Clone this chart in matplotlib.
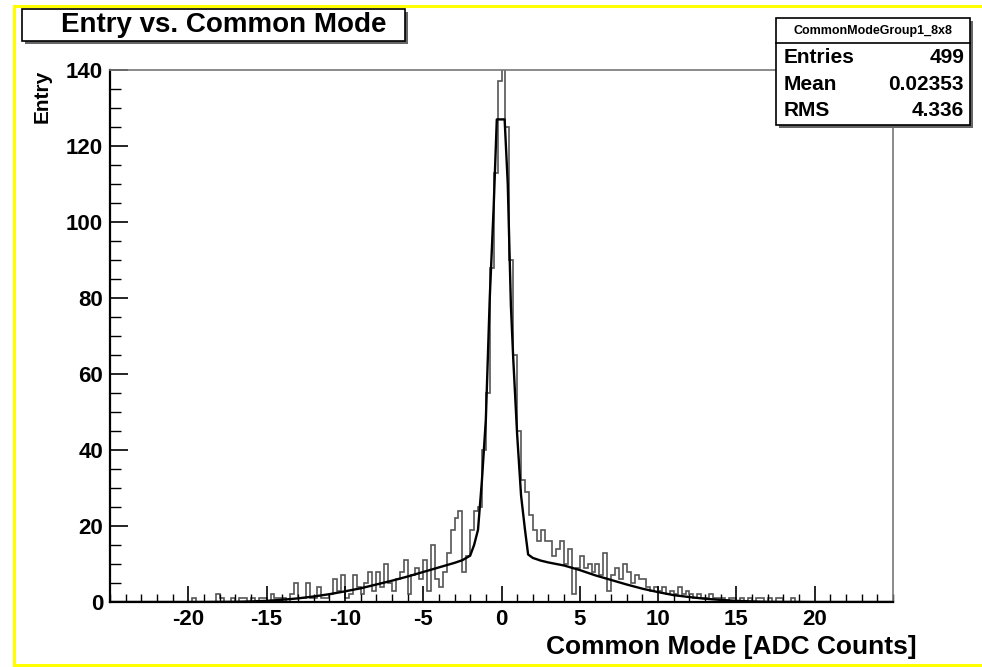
import numpy as np
import matplotlib
matplotlib.use("Agg")
import matplotlib.pyplot as plt
from matplotlib.patches import Rectangle
from matplotlib.lines import Line2D

plt.rcParams["axes.unicode_minus"] = False

# histogram of common mode values, bins of 0.25 ADC from -25 to 25
counts = [
    0, 0, 0, 0,  0, 0, 0, 0,  0, 0, 0, 0,  0, 0, 0, 0,  0, 0, 0, 0,      # -25 .. -20
    0, 1, 0, 0,  0, 0, 0, 2,  1, 0, 0, 1,  0, 1, 1, 0,  1, 0, 1, 1,      # -20 .. -15
    0, 2, 1, 1,  1, 0, 2, 5,  1, 1, 5, 1,  1, 4, 1, 1,  2, 6, 3, 7,      # -15 .. -10
    1, 2, 7, 4,  2, 5, 8, 3,  8, 4, 10, 5,  3, 6, 8, 11,  2, 7, 9, 6,    # -10 .. -5
    11, 3, 15, 6,  4, 8, 13, 19,  22, 24, 8, 12,  19, 24, 25, 40,        # -5 .. -1
    55, 88, 113, 137,                                                     # -1 .. 0
    142, 125, 90, 65,                                                     # 0 .. 1
    45, 32, 29, 23,  19, 16, 19, 16,  16, 12, 14, 16,  10, 14, 2, 9,     # 1 .. 5
    12, 9, 10, 8,  10, 7, 13, 3,  7, 9, 6, 10,  8, 5, 7, 6,  6, 4, 3, 4, # 5 .. 10
    3, 4, 2, 3,  2, 4, 2, 3,  2, 1, 2, 1,  1, 2, 1, 1,  1, 0, 1, 1,      # 10 .. 15
    0, 1, 0, 1,  0, 1, 1, 0,  1, 0, 1, 1,  0, 0, 1, 0,  0, 0, 0, 0,      # 15 .. 20
    0, 0, 0, 0,  0, 0, 0, 0,  0, 0, 0, 0,  0, 0, 0, 0,  0, 0, 0, 0,      # 20 .. 25
]
edges = np.linspace(-25, 25, len(counts) + 1)

# fitted function (polyline)
fit_x = [-25, -20, -17, -16, -15, -14, -13, -12, -11, -10, -9, -8, -7, -6, -5, -4,
         -3, -2.5, -2, -1.75, -1.5, -1.25, -1, -0.75, -0.5, -0.3, 0.2, 0.4, 0.6,
         0.75, 1, 1.25, 1.5, 1.7, 2, 2.5, 3, 4, 5, 6, 7, 8, 9, 10, 11, 12, 13,
         14, 15, 16, 17, 20, 25]
fit_y = [0, 0, 0.05, 0.15, 0.3, 0.6, 0.95, 1.45, 2.05, 2.8, 3.6, 4.6, 5.6, 6.7, 7.9, 9.1,
         10.3, 11.0, 12.2, 15, 19, 32, 48, 80, 104, 127, 127, 110, 78,
         64, 44, 28, 19, 12.5, 11.6, 10.9, 10.4, 9.6, 8.4, 7.0, 5.8, 4.6, 3.5, 2.6, 1.8, 1.3, 0.85,
         0.55, 0.3, 0.15, 0.05, 0, 0]

stat_names = ["Entries", "Mean", "RMS"]
stat_values = ["499", "0.02353", "4.336"]
hist_name = "CommonModeGroup1_8x8"

W, H = 982, 667
FONT = "Liberation Sans"

def fx(px):
    return px / W

def fy(py):
    return 1 - py / H

fig = plt.figure(figsize=(W / 100, H / 100), dpi=100)

# yellow canvas border
for xs, ys in [([14, 982], [6, 6]), ([14, 14], [6, 665]), ([14, 982], [665, 665])]:
    fig.add_artist(Line2D([fx(v) for v in xs], [fy(v) for v in ys], color="#ffff00", lw=2.2))

ax = fig.add_axes([fx(110), fy(602), fx(893) - fx(110), fy(70) - fy(602)])
ax.stairs(counts, edges, color="#555555", lw=1.2)
ax.plot(fit_x, fit_y, color="black", lw=1.7)

ax.set_xlim(-25, 25)
ax.set_ylim(0, 140)
ax.set_xticks(np.arange(-20, 21, 5))
ax.set_xticks(np.arange(-25, 26, 1), minor=True)
ax.set_yticks(np.arange(0, 141, 20))
ax.set_yticks(np.arange(0, 141, 5), minor=True)
ax.tick_params(axis="x", which="major", direction="in", length=11.5, width=1.2, pad=5)
ax.tick_params(axis="x", which="minor", direction="in", length=5.8, width=1.0)
ax.tick_params(axis="y", which="major", direction="in", length=13, width=1.2, pad=5)
ax.tick_params(axis="y", which="minor", direction="in", length=8, width=1.0)
for lab in ax.get_xticklabels() + ax.get_yticklabels():
    lab.set_fontfamily(FONT)
    lab.set_fontweight("bold")
    lab.set_fontsize(16)
ax.spines["left"].set_linewidth(1.6)
ax.spines["bottom"].set_linewidth(1.6)
ax.spines["top"].set_color("#777777")
ax.spines["right"].set_color("#777777")
ax.spines["top"].set_linewidth(1.2)
ax.spines["right"].set_linewidth(1.2)

fig.text(fx(42), fy(70), "Entry", rotation=90, ha="center", va="top",
         fontfamily=FONT, fontweight="bold", fontsize=15)
fig.text(fx(917), fy(647), "Common Mode [ADC Counts]", ha="right", va="center",
         fontfamily=FONT, fontweight="bold", fontsize=19)

def box(x0, y0, x1, y1):
    # shadowed box in pixel coordinates
    fig.add_artist(Rectangle((fx(x0 + 3), fy(y1 + 3)), fx(x1 - x0), (y1 - y0) / H,
                             facecolor="#666666", edgecolor="none"))
    fig.add_artist(Rectangle((fx(x0), fy(y1)), fx(x1 - x0), (y1 - y0) / H,
                             facecolor="white", edgecolor="black", lw=1.2))

# title box
box(22, 9, 405, 41)
fig.text(fx(224), fy(32), "Entry vs. Common Mode", ha="center", va="baseline",
         fontfamily=FONT, fontweight="bold", fontsize=20)

# statistics box
box(776, 18, 970, 125)
fig.add_artist(Line2D([fx(776), fx(970)], [fy(43), fy(43)], color="black", lw=1.2))
fig.text(fx(873), fy(31), hist_name, ha="center", va="center",
         fontfamily=FONT, fontweight="bold", fontsize=9)
for i, (name, val) in enumerate(zip(stat_names, stat_values)):
    yb = 63 + i * 26.5
    fig.text(fx(784), fy(yb), name, ha="left", va="baseline",
             fontfamily=FONT, fontweight="bold", fontsize=15)
    fig.text(fx(964), fy(yb), val, ha="right", va="baseline",
             fontfamily=FONT, fontweight="bold", fontsize=15)

fig.savefig("out.png", dpi=100)
